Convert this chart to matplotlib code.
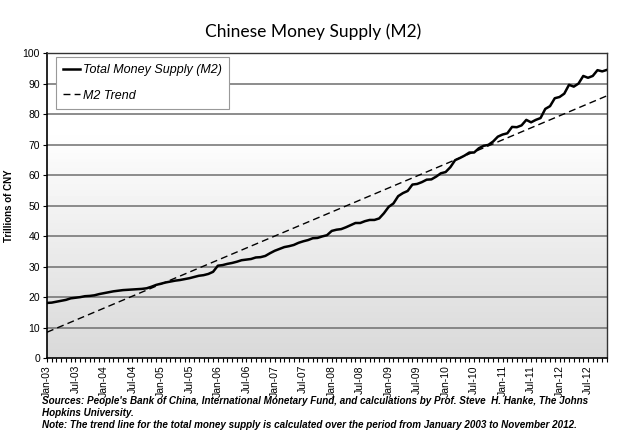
import numpy as np
import matplotlib
matplotlib.use("Agg")
from matplotlib import pyplot as plt

# monthly M2, trillions of CNY, Jan-03 .. Nov-12
m2_2003 = [18.1, 18.2, 18.5, 18.8, 19.1, 19.6, 19.8, 20.0, 20.3, 20.4, 20.6, 21.0]
m2_2004 = [21.3, 21.6, 21.9, 22.1, 22.3, 22.4, 22.5, 22.6, 22.7, 22.9, 23.4, 24.0]
m2_2005 = [24.4, 24.8, 25.1, 25.4, 25.6, 25.9, 26.2, 26.6, 27.0, 27.2, 27.6, 28.3]
m2_2006 = [30.3, 30.5, 30.9, 31.2, 31.6, 32.1, 32.3, 32.5, 33.0, 33.1, 33.5, 34.4]
m2_2007 = [35.2, 35.8, 36.4, 36.7, 37.1, 37.8, 38.3, 38.7, 39.3, 39.4, 39.9, 40.3]
m2_2008 = [41.7, 42.1, 42.3, 42.9, 43.6, 44.3, 44.3, 44.9, 45.3, 45.3, 45.8, 47.5]
m2_2009 = [49.6, 50.7, 53.1, 54.1, 54.8, 56.9, 57.1, 57.7, 58.5, 58.6, 59.5, 60.6]
m2_2010 = [61.0, 62.6, 64.9, 65.6, 66.4, 67.4, 67.4, 68.8, 69.6, 69.9, 71.0, 72.6]
m2_2011 = [73.3, 73.7, 75.8, 75.7, 76.3, 78.1, 77.3, 78.1, 78.7, 81.7, 82.6, 85.2]
m2_2012 = [85.6, 86.7, 89.6, 89.0, 90.0, 92.5, 91.9, 92.5, 94.4, 94.0, 94.5]

m2 = np.array(m2_2003 + m2_2004 + m2_2005 + m2_2006 + m2_2007 +
              m2_2008 + m2_2009 + m2_2010 + m2_2011 + m2_2012)
months = np.arange(len(m2))

# trend line end points
trend_start = 8.5
trend_end = 86.0
trend = np.linspace(trend_start, trend_end, len(m2))

tick_labels = ['Jan-03', 'Jul-03', 'Jan-04', 'Jul-04', 'Jan-05', 'Jul-05',
               'Jan-06', 'Jul-06', 'Jan-07', 'Jul-07', 'Jan-08', 'Jul-08',
               'Jan-09', 'Jul-09', 'Jan-10', 'Jul-10', 'Jan-11', 'Jul-11',
               'Jan-12', 'Jul-12']

plt.rcParams['font.family'] = ['Liberation Sans', 'DejaVu Sans']

fig = plt.figure(figsize=(6.2, 4.46), dpi=100)
ax = fig.add_axes([0.0758, 0.197, 0.9032, 0.684])

# grey gradient background: white at top, light grey at bottom
grad = np.concatenate([np.linspace(0.85, 0.97, 60), np.linspace(0.97, 1.0, 15), np.ones(25)])
grad = grad.reshape(-1, 1)
ax.imshow(grad, cmap='gray', vmin=0, vmax=1, aspect='auto', origin='lower',
          extent=[0, len(m2) - 1, 0, 100], zorder=0)

for yv in range(10, 100, 10):
    ax.axhline(yv, color='#6e6e6e', lw=1.1, zorder=1)

ax.plot(months, m2, color='black', lw=1.8, label='Total Money Supply (M2)', zorder=3)
ax.plot(months, trend, color='black', lw=1.0, dashes=(5, 3), label='M2 Trend', zorder=3)

ax.set_xlim(0, len(m2) - 1)
ax.set_ylim(0, 100)
ax.set_yticks(range(0, 101, 10))
ax.set_xticks(np.arange(0, len(m2), 6))
ax.set_xticklabels(tick_labels, rotation=90, fontsize=7.5)
ax.set_xticks(months, minor=True)
ax.tick_params(axis='x', which='both', length=3, width=0.8, pad=2)
ax.tick_params(axis='y', length=3, width=0.8, labelsize=7.5, pad=2)
ax.set_ylabel('Trillions of CNY', fontsize=7, fontweight='bold')
ax.yaxis.set_label_coords(-0.059, 0.5)

for s in ['left', 'bottom']:
    ax.spines[s].set_color('black')
    ax.spines[s].set_linewidth(1.2)
for s in ['top', 'right']:
    ax.spines[s].set_color('#333333')
    ax.spines[s].set_linewidth(1.0)

leg = ax.legend(loc='upper left', bbox_to_anchor=(0.016, 0.987),
                prop={'style': 'italic', 'size': 9}, fancybox=False,
                edgecolor='#999999', framealpha=1, handlelength=1.4,
                handletextpad=0.25, labelspacing=1.1, borderpad=0.55,
                borderaxespad=0)
leg.get_frame().set_linewidth(0.8)

fig.text(0.505, 0.93, 'Chinese Money Supply (M2)', ha='center', va='center',
         fontsize=12.5, family='Lato')

note = ("Sources: People's Bank of China, International Monetary Fund, and calculations by Prof. Steve  H. Hanke, The Johns\n"
        "Hopkins University.\n"
        "Note: The trend line for the total money supply is calculated over the period from January 2003 to November 2012.")
fig.text(0.068, 0.113, note, ha='left', va='top', fontsize=7.1,
         fontweight='bold', style='italic', linespacing=1.3)

fig.savefig('out.png', dpi=100)
